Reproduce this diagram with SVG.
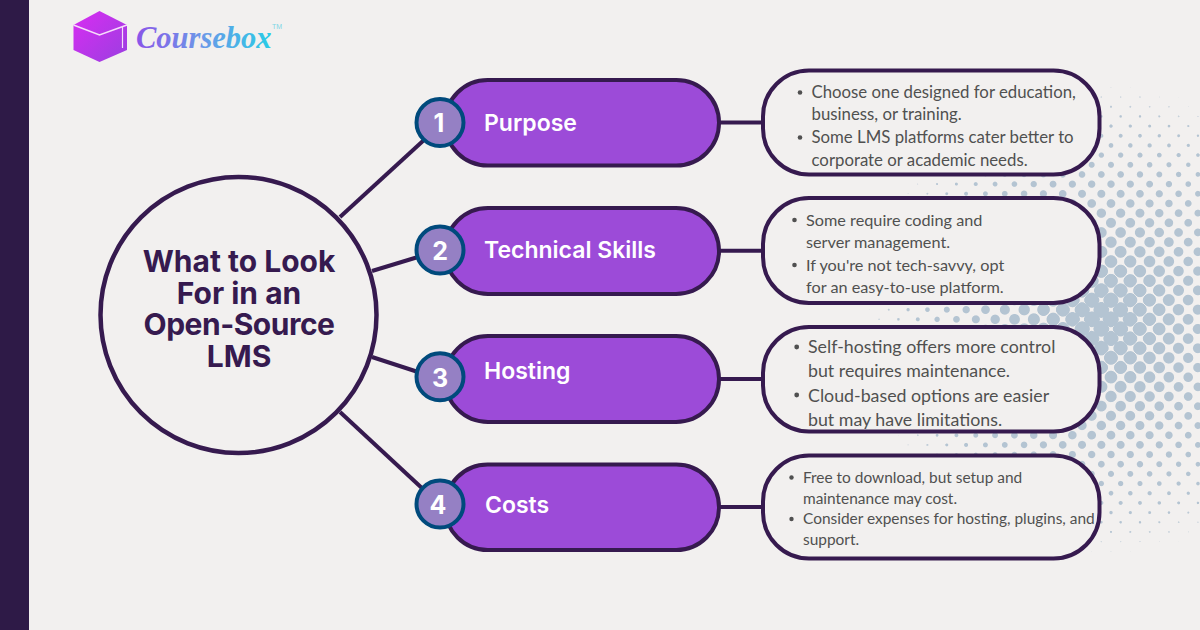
<svg xmlns="http://www.w3.org/2000/svg" width="1200" height="630" viewBox="0 0 1200 630">
<style>
.pill{fill:#9c4bd8;stroke:#361a4f;stroke-width:4}
.card{fill:#f2f0ef;stroke:#361a4f;stroke-width:4}
.badge{fill:#9580c4;stroke:#004a7c;stroke-width:4}
.num{font:700 25px "Inter","Liberation Sans",sans-serif;fill:#fff;text-anchor:middle}
.lab{font:600 23px "Inter","Liberation Sans",sans-serif;fill:#fff}
.ttl{font:700 30px "Inter","Liberation Sans",sans-serif;fill:#361a4f;text-anchor:middle}
.b{font-family:"Lato","Open Sans",sans-serif;fill:#505050}
.dot{fill:#505050}
.con{stroke:#361a4f;stroke-width:4;fill:none}
</style>
<defs>
<radialGradient id="field" gradientUnits="userSpaceOnUse" cx="1101.5" cy="319.5" r="245"><stop offset="0" stop-color="#f00"/><stop offset="1" stop-color="#000"/></radialGradient>
<radialGradient id="cell" cx=".5" cy=".5" r=".5"><stop offset="0" stop-color="#0f0"/><stop offset="1" stop-color="#000"/></radialGradient>
<pattern id="lat" patternUnits="userSpaceOnUse" x="1101.33" y="97.03" width="19.33" height="19.33">
<rect width="19.33" height="19.33" fill="#000"/>
<polygon fill="url(#cell)" points="9.665,0 19.33,9.665 9.665,19.33 0,9.665"/>
<polygon fill="url(#cell)" points="0,-9.665 9.665,0 0,9.665 -9.665,0"/>
<polygon fill="url(#cell)" points="19.33,-9.665 29,0 19.33,9.665 9.665,0"/>
<polygon fill="url(#cell)" points="0,9.665 9.665,19.33 0,29 -9.665,19.33"/>
<polygon fill="url(#cell)" points="19.33,9.665 29,19.33 19.33,29 9.665,19.33"/>
</pattern>
<filter id="ht" filterUnits="userSpaceOnUse" x="860" y="80" width="340" height="480" color-interpolation-filters="sRGB">
<feColorMatrix type="matrix" values="0 0 0 0 .706  0 0 0 0 .769  0 0 0 0 .824  9 10.3 0 0 -9.9"/>
</filter>
<linearGradient id="cube" x1="0" y1="0" x2="1" y2="1"><stop offset="0" stop-color="#d92cf2"/><stop offset="1" stop-color="#9a3fe0"/></linearGradient>
<linearGradient id="word" gradientUnits="userSpaceOnUse" x1="136" y1="0" x2="272" y2="0"><stop offset="0" stop-color="#8a55e8"/><stop offset=".5" stop-color="#6a9ae8"/><stop offset="1" stop-color="#28cce6"/></linearGradient>
</defs>
<rect width="1200" height="630" fill="#f2f0ef"/>
<rect width="29" height="630" fill="#2e1a47"/>
<g id="halftone">
<g filter="url(#ht)" style="isolation:isolate">
<rect x="860" y="80" width="340" height="480" fill="#000"/>
<rect x="860" y="80" width="340" height="480" fill="url(#field)"/>
<rect x="860" y="80" width="340" height="480" fill="url(#lat)" style="mix-blend-mode:screen"/>
</g>
</g>
<g id="logo">
<polygon points="99.5,11 127,25 127,50 99.5,62 73.5,50 73.5,25" fill="url(#cube)"/>
<polyline points="73.5,25 99.5,35 127,25" fill="none" stroke="#f6dcfa" stroke-width="1.6"/>
<line x1="122.5" y1="27" x2="122.5" y2="48" stroke="#f6dcfa" stroke-width="1.2"/>
<text x="136" y="48" font-family="Liberation Serif,serif" font-style="italic" font-weight="700" font-size="30.5" fill="url(#word)">Coursebox</text>
<text x="272" y="29" font-family="Liberation Sans,sans-serif" font-size="7" fill="#7fd6e6">TM</text>
</g>
<g id="connectors">
<line class="con" x1="340" y1="217" x2="424" y2="140"/>
<line class="con" x1="372" y1="271" x2="418" y2="257"/>
<line class="con" x1="372" y1="357" x2="418" y2="372"/>
<line class="con" x1="340" y1="412" x2="424" y2="490"/>
<line class="con" x1="720" y1="122.5" x2="763" y2="122.5"/>
<line class="con" x1="720" y1="250.7" x2="763" y2="250.7"/>
<line class="con" x1="720" y1="379" x2="763" y2="379"/>
<line class="con" x1="720" y1="507" x2="763" y2="507"/>
</g>
<g id="hub">
<circle cx="238.5" cy="315" r="138" fill="#f2f0ef" stroke="#361a4f" stroke-width="4.5"/>
<text class="ttl"><tspan x="239" y="272">What to Look</tspan><tspan x="239" y="303.5">For in an</tspan><tspan x="239" y="335" letter-spacing="-.5">Open-Source</tspan><tspan x="239" y="366.5">LMS</tspan></text>
</g>
<g id="node1">
<rect class="pill" x="445" y="80" width="274" height="85.5" rx="42.7"/>
<circle class="badge" cx="440" cy="122.5" r="23.5"/>
<text class="num" x="439" y="131.5">1</text>
<text class="lab" x="484" y="131">Purpose</text>
</g>
<g id="node2">
<rect class="pill" x="445" y="208" width="274" height="86" rx="43"/>
<circle class="badge" cx="440" cy="250" r="23.5"/>
<text class="num" x="440" y="259.5">2</text>
<text class="lab" x="484" y="258">Technical Skills</text>
</g>
<g id="node3">
<rect class="pill" x="445" y="336" width="274" height="86" rx="43"/>
<circle class="badge" cx="440" cy="376.7" r="23.5"/>
<text class="num" x="440" y="386.5">3</text>
<text class="lab" x="484" y="379">Hosting</text>
</g>
<g id="node4">
<rect class="pill" x="445" y="464.5" width="274" height="85.5" rx="42.7"/>
<circle class="badge" cx="440" cy="504" r="23.5"/>
<text class="num" x="438" y="513.5">4</text>
<text class="lab" x="485" y="513">Costs</text>
</g>
<g id="detail1">
<rect class="card" x="763" y="70.5" width="336.5" height="104" rx="46"/>
<circle class="dot" cx="800" cy="92.5" r="2.3"/><circle class="dot" cx="800" cy="137.5" r="2.3"/>
<g class="b" font-size="16.8"><text x="811.5" y="98">Choose one designed for education,</text><text x="811.5" y="120">business, or training.</text><text x="811.5" y="143">Some LMS platforms cater better to</text><text x="811.5" y="166">corporate or academic needs.</text></g>
</g>
<g id="detail2">
<rect class="card" x="763" y="198" width="336.5" height="105" rx="46"/>
<circle class="dot" cx="794.5" cy="220" r="2.3"/><circle class="dot" cx="794.5" cy="265" r="2.3"/>
<g class="b" font-size="16.25"><text x="806" y="225.7">Some require coding and</text><text x="806" y="247.5">server management.</text><text x="806" y="270.7">If you're not tech-savvy, opt</text><text x="806" y="292.5">for an easy-to-use platform.</text></g>
</g>
<g id="detail3">
<rect class="card" x="763" y="327" width="336.5" height="104.5" rx="46"/>
<circle class="dot" cx="796.7" cy="347" r="2.4"/><circle class="dot" cx="796.7" cy="395" r="2.4"/>
<g class="b" font-size="17.8"><text x="808" y="353">Self-hosting offers more control</text><text x="808" y="377">but requires maintenance.</text><text x="808" y="401.5">Cloud-based options are easier</text><text x="808" y="426">but may have limitations.</text></g>
</g>
<g id="detail4">
<rect class="card" x="763" y="455.5" width="336.5" height="103" rx="46"/>
<circle class="dot" cx="791.5" cy="477.5" r="2.2"/><circle class="dot" cx="791.5" cy="519" r="2.2"/>
<g class="b" font-size="15.45"><text x="803" y="483">Free to download, but setup and</text><text x="803" y="504">maintenance may cost.</text><text x="803" y="524">Consider expenses for hosting, plugins, and</text><text x="803" y="545">support.</text></g>
</g>
</svg>
